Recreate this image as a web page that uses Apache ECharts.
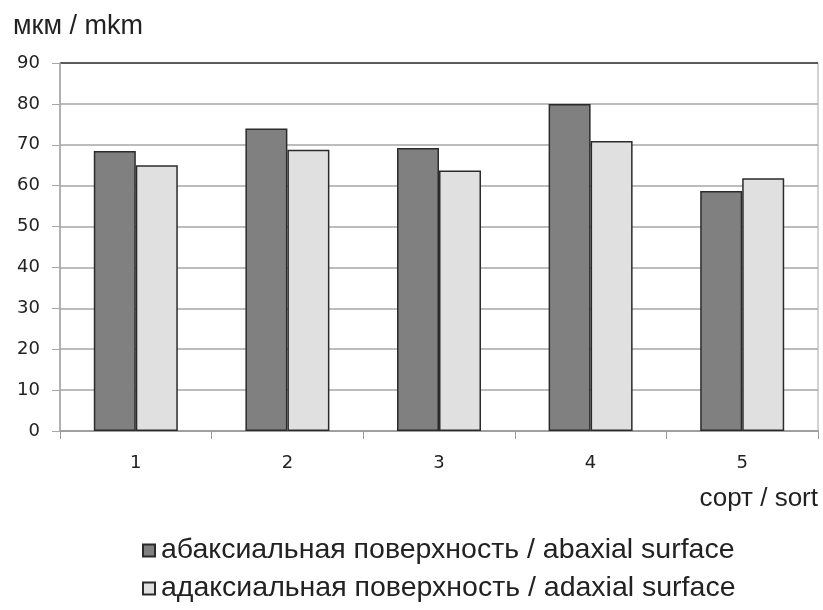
<!DOCTYPE html>
<html>
<head>
<meta charset="utf-8">
<script src="https://cdn.jsdelivr.net/npm/echarts@6/dist/echarts.min.js"></script>
<style>
  html, body { margin: 0; padding: 0; background: #fff; }
  #chart { width: 823px; height: 610px; }
</style>
</head>
<body>
<div id="chart"></div>
<script>
// Sorts on the category axis
const categories = ['1', '2', '3', '4', '5'];
// Thickness, µm
const abaxial = [68.5, 74, 69.2, 80, 58.7];
const adaxial = [65, 68.8, 63.7, 70.9, 61.8];
// Value axis range
const yMin = 0, yMax = 90, yStep = 10;

const seriesNames = [
  'абаксиальная поверхность / abaxial surface',
  'адаксиальная поверхность / adaxial surface'
];

const textFont = 'Liberation Sans, Arial, sans-serif';
const tickFont = 'DejaVu Sans, sans-serif';

// Grid lines: light gray, the top one drawn dark
const gridLineColors = [];
for (let v = yMin; v <= yMax; v += yStep) {
  gridLineColors.push(v === yMax ? '#333' : '#a6a6a6');
}

// One legend row per series, stacked under the chart
const legendRow = (name, top) => ({
  orient: 'horizontal',
  left: 137, top: top,
  itemWidth: 12, itemHeight: 12,
  icon: 'rect',
  textStyle: { fontFamily: textFont, fontSize: 28.5, color: '#222', padding: [0, 0, 0, 1] },
  data: [name]
});

const chart = echarts.init(document.getElementById('chart'), null, { renderer: 'canvas' });
chart.setOption({
  animation: false,
  backgroundColor: '#fff',
  grid: {
    left: 60, right: 5, top: 63, bottom: 179,
    show: true, borderColor: '#a6a6a6', borderWidth: 1
  },
  title: {
    text: 'мкм / mkm',
    left: 8, top: 8,
    textStyle: { fontFamily: textFont, fontSize: 27, fontWeight: 'normal', color: '#222' }
  },
  legend: [legendRow(seriesNames[0], 531), legendRow(seriesNames[1], 569)],
  xAxis: {
    type: 'category',
    data: categories,
    name: 'сорт / sort',
    nameLocation: 'end',
    nameGap: 0,
    nameTextStyle: {
      fontFamily: textFont, fontSize: 26, color: '#222',
      align: 'right', verticalAlign: 'top', padding: [55, 0, 0, 0]
    },
    axisLine: { lineStyle: { color: '#999', width: 1.5 } },
    axisTick: { show: true, alignWithLabel: false, length: 8, lineStyle: { color: '#999' } },
    axisLabel: { margin: 23, fontFamily: tickFont, fontSize: 18, color: '#222' }
  },
  yAxis: {
    type: 'value',
    min: yMin, max: yMax, interval: yStep,
    axisLine: { show: true, lineStyle: { color: '#a6a6a6', width: 1.5 } },
    axisTick: { show: true, length: 8, lineStyle: { color: '#a6a6a6' } },
    axisLabel: { margin: 20, fontFamily: tickFont, fontSize: 18, color: '#222' },
    splitLine: { show: true, lineStyle: { color: gridLineColors, width: 1.5 } }
  },
  series: [
    {
      name: seriesNames[0],
      type: 'bar',
      data: abaxial,
      barWidth: 42,
      barGap: '0%',
      itemStyle: { color: '#808080', borderColor: '#2b2b2b', borderWidth: 1.5 }
    },
    {
      name: seriesNames[1],
      type: 'bar',
      data: adaxial,
      barWidth: 42,
      barGap: '0%',
      itemStyle: { color: '#e0e0e0', borderColor: '#2b2b2b', borderWidth: 1.5 }
    }
  ]
});
</script>
</body>
</html>
